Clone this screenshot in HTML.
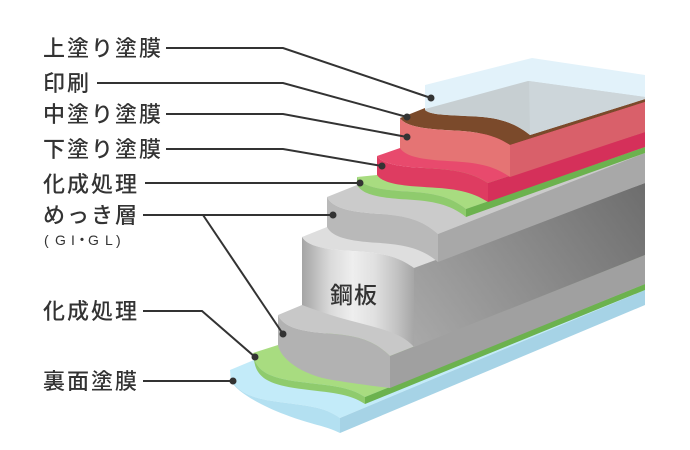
<!DOCTYPE html>
<html>
<head>
<meta charset="utf-8">
<style>
html,body{margin:0;padding:0;background:#fff;}
body{width:690px;height:450px;overflow:hidden;}
svg{display:block;}
.lb{font-family:"Liberation Sans","Noto Sans CJK JP",sans-serif;font-size:22px;font-weight:500;fill:#333;letter-spacing:2px;}
.sm{font-family:"Liberation Sans","Noto Sans CJK JP",sans-serif;font-size:14px;font-weight:500;fill:#333;}
</style>
</head>
<body>
<svg width="690" height="450" viewBox="0 0 690 450" xmlns="http://www.w3.org/2000/svg">
<defs>
  <linearGradient id="stS" gradientUnits="userSpaceOnUse" x1="302" y1="0" x2="414" y2="0">
    <stop offset="0" stop-color="#a4a4a4"/>
    <stop offset="0.25" stop-color="#dadada"/>
    <stop offset="0.45" stop-color="#eeeeee"/>
    <stop offset="0.65" stop-color="#e0e0e0"/>
    <stop offset="0.85" stop-color="#c2c2c2"/>
    <stop offset="1" stop-color="#a6a6a6"/>
  </linearGradient>
  <linearGradient id="stF" gradientUnits="userSpaceOnUse" x1="414" y1="347" x2="645" y2="183">
    <stop offset="0" stop-color="#a9a9a9"/>
    <stop offset="1" stop-color="#6d6d6d"/>
  </linearGradient>
</defs>

<!-- Blue back coating -->
<path d="M230,370 C232.2,386.8 241,396.4 274,401.2 C307,406 323.5,406 340,418 L645,290 L645,284 L254,360 Z" fill="#c3ebf9"/>
<path d="M230,370 C232.2,386.8 241,396.4 274,401.2 C307,406 323.5,406 340,418 L340,433 C323.7,425.2 312.8,425.2 285.5,414.8 C258.3,404.4 236.5,391.4 231,381 Z" fill="#b3e0f1"/>
<path d="M340,418 L645,290 L645,305 L340,433 Z" fill="#a6d3e6"/>

<!-- Green lower -->
<path d="M253,353 C255.2,368.4 264.2,377.2 297.8,381.6 C331.4,386 348.2,386 365,397 L645,284 L645,255 L278,345 Z" fill="#a8dc80"/>
<path d="M253,353 C255.2,368.4 264.2,377.2 297.8,381.6 C331.4,386 348.2,386 365,397 L365,404 C348.4,393 331.7,393 298.4,388.6 C265.1,384.2 256.2,375.4 254,360 Z" fill="#8fcb6d"/>
<path d="M365,397 L645,284 L645,290 L365,404 Z" fill="#6cb24e"/>

<!-- Lower plating -->
<path d="M278,315 C283.6,327.3 300.4,331.4 328.4,333.5 C356.4,335.5 373.2,339.6 390,356 L645,255 L645,183 L302,305 Z" fill="#c8c8c8"/>
<path d="M278,315 C283.6,327.3 300.4,331.4 328.4,333.5 C356.4,335.5 373.2,339.6 390,356 L390,388 C378.8,386.7 367.6,385.4 334,380.3 C300.4,375.1 280.2,357.9 278,345 Z" fill="#b2b2b2"/>
<path d="M390,356 L645,255 L645,284 L390,388 Z" fill="#a0a0a0"/>

<!-- Steel -->
<path d="M302,237 C307.6,246.3 324.4,249.4 352.4,251 C380.4,252.5 397.2,255.6 414,268 L645,183 L645,153 L327,227 Z" fill="#dedede"/>
<path d="M302,237 C307.6,246.3 324.4,249.4 352.4,251 C380.4,252.5 397.2,255.6 414,268 L414,347 C402.8,334.4 386,329.8 358,322.6 C330,315.5 313.2,309.2 302,305 Z" fill="url(#stS)"/>
<path d="M414,268 L645,183 L645,255 L414,347 Z" fill="url(#stF)"/>

<!-- Upper plating -->
<path d="M327,197 C332.6,208.1 349.2,211.8 377,213.7 C404.7,215.5 421.4,219.2 438,234 L645,153 L645,147 L357,185 Z" fill="#cbcbcb"/>
<path d="M327,197 C332.6,208.1 349.2,211.8 377,213.7 C404.7,215.5 421.4,219.2 438,234 L438,262 C421.4,248 404.7,244.5 377,242.8 C349.2,241 332.6,237.5 327,227 Z" fill="#b9b9b9"/>
<path d="M438,234 L645,153 L645,183 L438,262 Z" fill="#a8a8a8"/>

<!-- Green upper -->
<path d="M357,177 C362.5,186.6 378.8,189.8 406,191.4 C433.3,193 449.7,196.2 466,209 L645,147 L645,132 L377,175 Z" fill="#a8dc80"/>
<path d="M357,177 C362.5,186.6 378.8,189.8 406,191.4 C433.3,193 449.7,196.2 466,209 L466,217 C449.7,204.2 433.3,201 406,199.4 C378.8,197.8 362.5,194.6 357,185 Z" fill="#8fcb6d"/>
<path d="M466,209 L645,147 L645,153 L466,217 Z" fill="#6cb24e"/>

<!-- Red (undercoat) -->
<path d="M377,156 C382.6,164.1 399.2,166.8 427,168.2 C454.7,169.5 471.4,172.2 488,183 L645,132 L645,102 L400,148 Z" fill="#e84a6d"/>
<path d="M377,156 C382.6,164.1 399.2,166.8 427,168.2 C454.7,169.5 471.4,172.2 488,183 L488,202 C471.4,191.2 454.7,188.5 427,187.2 C399.2,185.8 382.6,183.1 377,175 Z" fill="#de3c61"/>
<path d="M488,183 L645,132 L645,147 L488,202 Z" fill="#d5305a"/>

<!-- Salmon (middle coat) + brown print -->
<path d="M400,118 C405.5,126.1 422,128.8 449.5,130.2 C477,131.5 493.5,134.2 510,145 L645,102 L645,95 L425,108 Z" fill="#7b4a2b"/>
<path d="M400,118 C405.5,126.1 422,128.8 449.5,130.2 C477,131.5 493.5,134.2 510,145 L510,177 C493.5,165.4 477,162.5 449.5,161.1 C422,159.6 405.5,156.7 400,148 Z" fill="#e57474"/>
<path d="M510,145 L645,102 L645,132 L510,177 Z" fill="#d9606a"/>

<!-- Clear top coat -->
<path d="M425,85 L532,58 L645,75 L645,99 L530,135 C514.3,122.5 498.5,117.5 472.3,116.3 C446,115 430.3,115 425,110 Z" fill="#e2f2fa"/>
<path d="M425,109 L528,81 L645,97 L645,99 L530,135 C514.3,122.5 498.5,117.5 472.3,116.3 C446,115 430.3,115 425,110 Z" fill="#c7cfd2"/>
<path d="M529,81 L645,97 L645,99 L530,135 Z" fill="#cdd6da"/>

<!-- Steel label -->
<text class="lb" x="330" y="303" style="font-size:23px;letter-spacing:1px;">鋼板</text>

<!-- Leader lines -->
<g stroke="#333" stroke-width="2" fill="none">
  <polyline points="166,48 283,48 431,98"/>
  <polyline points="97,83 283,83 407,117"/>
  <polyline points="166,114 283,114 407,137"/>
  <polyline points="166,149 283,149 382,166"/>
  <polyline points="145,183 360,183"/>
  <polyline points="143,215 333,215"/>
  <polyline points="203,215 283,334"/>
  <polyline points="143,311 202,311 255,357"/>
  <polyline points="143,381 233,381"/>
</g>
<g fill="#333">
  <circle cx="431" cy="98" r="3.5"/>
  <circle cx="407" cy="117" r="3.5"/>
  <circle cx="407" cy="137" r="3.5"/>
  <circle cx="382" cy="166" r="3.5"/>
  <circle cx="360" cy="183" r="3.5"/>
  <circle cx="333" cy="215" r="3.5"/>
  <circle cx="283" cy="334" r="3.5"/>
  <circle cx="255" cy="357" r="3.5"/>
  <circle cx="233" cy="381" r="3.5"/>
</g>

<!-- Labels -->
<text class="lb" x="43" y="56">上塗り塗膜</text>
<text class="lb" x="43" y="91">印刷</text>
<text class="lb" x="43" y="122">中塗り塗膜</text>
<text class="lb" x="43" y="157">下塗り塗膜</text>
<text class="lb" x="43" y="192">化成処理</text>
<text class="lb" x="43" y="223">めっき層</text>
<text class="sm" x="44 55 71 75 88 105 116" y="245">(GI・GL)</text>
<text class="lb" x="43" y="319">化成処理</text>
<text class="lb" x="43" y="389">裏面塗膜</text>
</svg>
</body>
</html>
